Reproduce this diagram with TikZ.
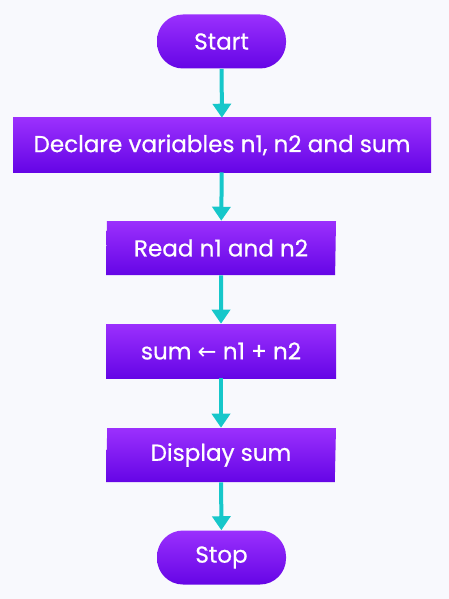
\documentclass[tikz,border=0pt]{standalone}
\usepackage{fontspec}
\setmainfont{Poppins}[FakeBold=0.6]
\usepackage{tikz}
\usetikzlibrary{arrows.meta,shapes.geometric}
\usepackage{xcolor}
\definecolor{bgpage}{HTML}{F8F9FD}
\definecolor{boxtop}{HTML}{9B30FD}
\definecolor{boxbot}{HTML}{6505E6}
\definecolor{flowline}{HTML}{16C7CA}

\tikzset{
    box/.style={draw=none, top color=boxtop, bottom color=boxbot, text=white,
        font=\fontsize{17.3}{20}\selectfont, inner sep=0pt, minimum height=54*0.75pt},
    terminal/.style={box, rounded corners=26*0.75pt, minimum width=129*0.75pt},
    process/.style={box, rectangle},
    io/.style={box, trapezium, trapezium left angle=87, trapezium right angle=93,
        trapezium stretches body, minimum width=230*0.75pt},
    flow/.style={-{Triangle[width=18*0.75pt, length=14*0.75pt]}, line width=4*0.75pt, draw=flowline}
}

\begin{document}
\begin{tikzpicture}[x=0.75pt, y=-0.75pt]

    % page
    \fill[bgpage] (0,0) rectangle (449,599);
    \useasboundingbox (0,0) rectangle (449,599);

    % steps
    \node[terminal] (start) at (221.5,41.5) {Start};
    \node[process, minimum width=418*0.75pt] (declare) at (222,145) {Declare variables n1, n2 and sum};
    \node[io] (read) at (221,248) {Read n1 and n2};
    \node[process, minimum width=230*0.75pt] (add) at (221,351) {sum {\fontspec{DejaVu Sans}\fontsize{17}{20}\selectfont ←} n1 + n2};
    \node[io] (display) at (221,455) {Display sum};
    \node[terminal] (stop) at (221.5,557.5) {Stop};

    % connectors
    \foreach \a/\b in {start/declare, declare/read, read/add, add/display, display/stop}{
        \draw[flow] (\a) -- (\b);
    }
\end{tikzpicture}
\end{document}
